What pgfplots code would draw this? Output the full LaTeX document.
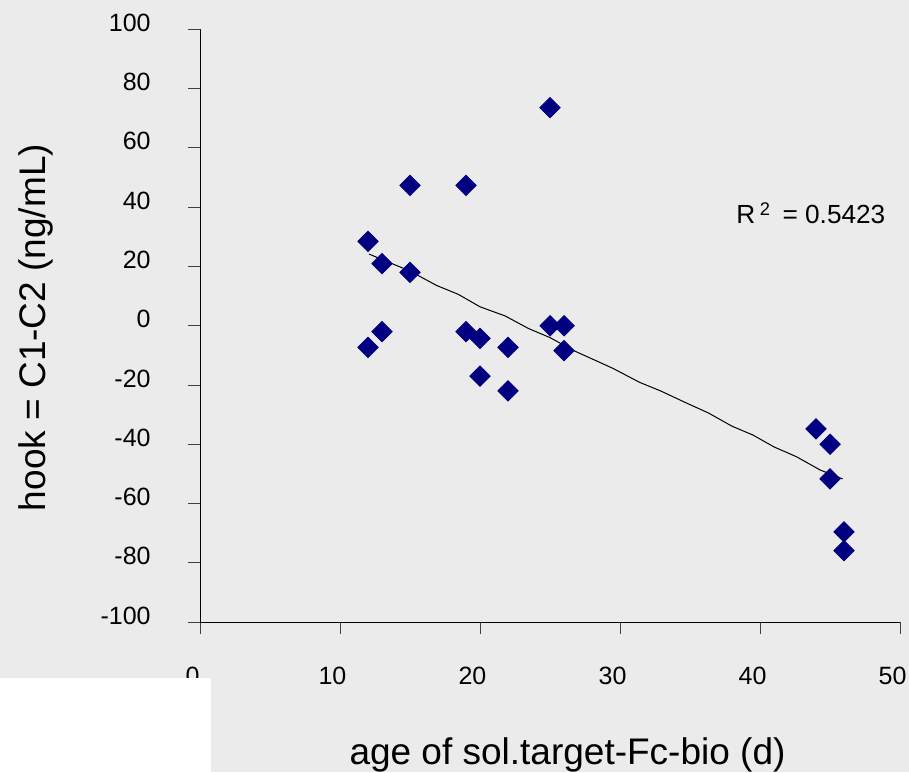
\documentclass[border=0pt]{standalone}
\usepackage{pgfplots}
\pgfplotsset{compat=1.18}
\usepackage{fontspec}
\setmainfont{Liberation Sans}
\definecolor{bg}{HTML}{EBEBEB}
\definecolor{navy}{HTML}{000080}
\begin{document}
\begin{tikzpicture}[x=1pt,y=1pt]
\useasboundingbox (0,0) rectangle (454.5,386);
\fill[bg] (0,0) rectangle (454.5,386);
\begin{axis}[
    at={(100pt,75pt)}, anchor=south west,
    scale only axis,
    width=350pt, height=296.25pt,
    xmin=0, xmax=50, ymin=-100, ymax=100,
    axis x line*=bottom, axis y line*=left,
    axis line style={black, line width=0.5pt},
    tick align=outside, major tick length=6pt,
    tick style={black!75, line width=0.5pt},
    xtick={0,10,...,50}, xticklabels={0,10,20,30,40,50},
    ytick={-100,-80,...,100},
    yticklabels={-100,-80,-60,-40,-20,0,20,40,60,80,100},
    ticklabel style={font=\fontsize{12.5}{15}\selectfont, inner sep=0pt},
    xticklabel style={anchor=base, yshift=-25pt, xshift=-3.75pt},
    yticklabel style={anchor=base east, xshift=-18.5pt, yshift=-1pt},
    xlabel={age of sol.target-Fc-bio (d)},
    ylabel={hook = C1-C2 (ng/mL)},
    label style={font=\fontsize{18.5}{22}\selectfont, inner sep=0pt},
    xlabel style={at={(axis description cs:0.525,-0.2397)}, anchor=base},
    ylabel style={at={(axis description cs:-0.2214,0.497)}, anchor=base},
    clip=false,
]
% trendline
\addplot[black, line width=0.5pt] coordinates {
    (12.07,24.2) (14.98,18.5) (16.9,13.6) (18.45,10.6) (20,6.4) (21.8,3.3)
    (23.45,-0.9) (25,-4.0) (26.7,-8.4) (28.57,-12.4) (29.5,-14.4) (31.4,-19.1)
    (32.9,-22) (34.8,-26.2) (36.3,-29.4) (38,-33.9) (39.5,-36.9) (41,-40.9)
    (42.6,-44.2) (44.3,-48.7) (45.9,-51.7)
};
% data
\addplot[only marks, mark=square*, mark size=3.6pt,
    mark options={rotate=45, fill=navy, draw=navy}] coordinates {
    (25,73.6) (15,47.4) (19,47.4) (12,28.5) (13,21) (15,18)
    (13,-2) (12,-7.3) (19,-2) (20,-4.3) (22,-7.3) (20,-17) (22,-22)
    (25,0) (26,0) (26,-8.4)
    (44,-34.8) (45,-40) (45,-51.7) (46,-69.6) (46,-75.9)
};
\node[anchor=base west, inner sep=0pt, font=\fontsize{13.1}{15}\selectfont]
    at (axis cs:38.29,34.36) {R\,\textsuperscript{2}\, = 0.5423};
\end{axis}
\fill[white] (0,0) rectangle (105.5,47.15);
\end{tikzpicture}
\end{document}
